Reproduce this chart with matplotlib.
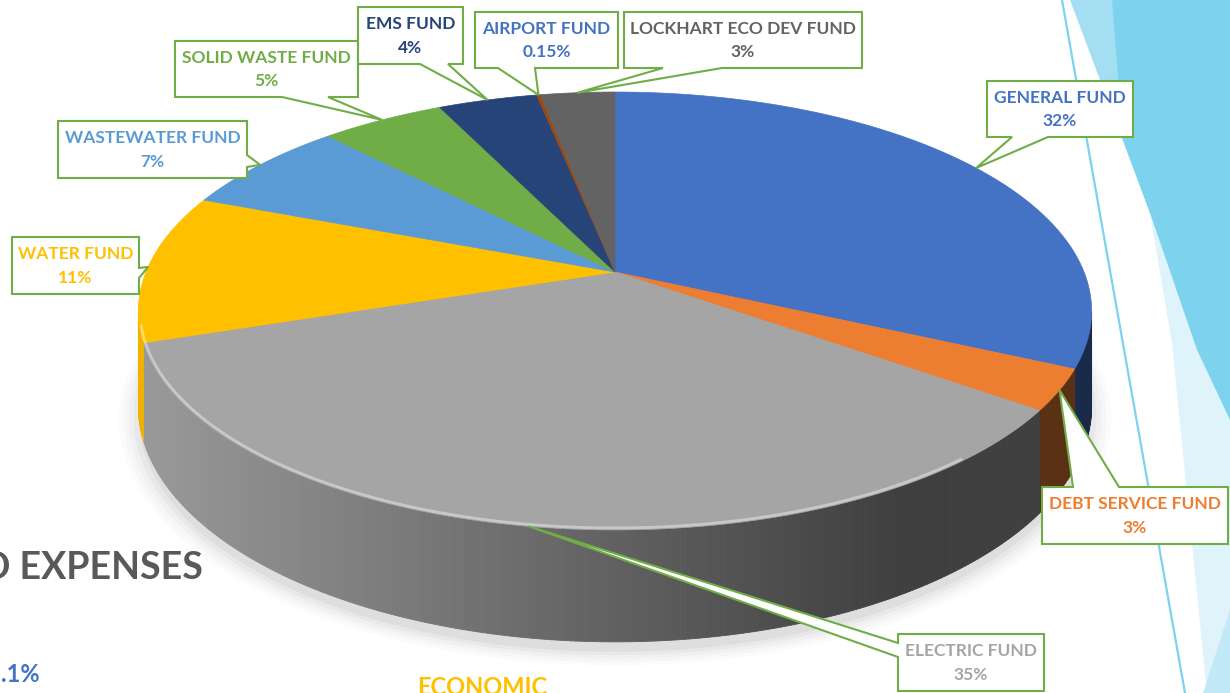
import numpy as np
import matplotlib
matplotlib.use("Agg")
import matplotlib.pyplot as plt
from matplotlib.patches import Polygon
from matplotlib.collections import PolyCollection

# data
funds = ["GENERAL FUND", "DEBT SERVICE FUND", "ELECTRIC FUND", "WATER FUND",
         "WASTEWATER FUND", "SOLID WASTE FUND", "EMS FUND", "AIRPORT FUND",
         "LOCKHART ECO DEV FUND"]
shares = [32, 3, 35, 11, 7, 5, 4, 0.15, 3]
top_colors = ["#4472C4", "#ED7D31", "#A5A5A5", "#FFC000", "#5B9BD5",
              "#70AD47", "#264478", "#9E480E", "#636363"]
label_colors = ["#4472C4", "#ED7D31", "#A5A5A5", "#FFC000", "#5B9BD5",
                "#70AD47", "#264478", "#4472C4", "#636363"]

# callout boxes (x0, y0, x1, y1), side of the tail, tail base positions
boxes = [
    ((987, 81, 1133, 137), "bottom", (1012, 1048)),
    ((1042, 487, 1228, 544), "top", (1073, 1119)),
    ((898, 634, 1044, 691), "left", (643, 657)),
    ((12, 237, 139, 294), "right", (268, 278)),
    ((58, 121, 247, 178), "right", (155, 167)),
    ((175, 41, 358, 97), "bottom", (282, 328)),
    ((358, 7, 463, 64), "bottom", (420, 448)),
    ((475, 12, 618, 68), "bottom", (498, 535)),
    ((624, 12, 862, 68), "bottom", (663, 722)),
]

# perspective of the pie disc (pixel space)
CX, S, P, Q, K, H = 615, 469, 272, -163.6, 0.178, 92


def proj(theta_deg, r=1.0, z=0.0):
    t = np.radians(theta_deg)
    u = r * np.cos(t)
    v = r * np.sin(t)
    w = 1 + K * v
    return CX + S * u / w, (P + Q * v) / w + H * z / w


def shade(hex_color, f):
    c = np.array(matplotlib.colors.to_rgb(hex_color))
    return tuple(np.clip(c * f, 0, 1))


plt.rcParams["font.family"] = ["Lato", "DejaVu Sans"]
fig = plt.figure(figsize=(12.3, 6.93), dpi=100)
ax = fig.add_axes([0, 0, 1, 1])
ax.set_xlim(0, 1230)
ax.set_ylim(693, 0)
ax.axis("off")

# slide background decoration on the right
ax.add_patch(Polygon([(1070, 0), (1112, 0), (1150, 213)], color="#A3DEF3", lw=0))
ax.add_patch(Polygon([(1150, 213), (1172, 343), (1207, 693), (1230, 693),
                      (1230, 420), (1197, 350)], color="#DFF3FA", lw=0))
ax.add_patch(Polygon([(1112, 0), (1230, 0), (1230, 420), (1197, 350),
                      (1150, 213), (1123, 140)], color="#7DD3EE", lw=0))
ax.add_patch(Polygon([(1230, 610), (1230, 693), (1203, 693)], color="#C2E9F7", lw=0))
ax.plot([1062, 1185], [0, 693], color="#7DD3EE", lw=1.6)

# angles of every slice (clockwise from 12 o'clock)
vals = np.array(shares, dtype=float)
cum = np.concatenate([[0], np.cumsum(vals) / vals.sum()])
starts = 90 - 360 * cum[:-1]
ends = 90 - 360 * cum[1:]

# soft shadow under the disc
th = np.linspace(0, 360, 240)
for r, a in [(1.04, 0.015), (1.03, 0.02), (1.02, 0.025), (1.01, 0.03), (1.0, 0.04)]:
    xs, ys = proj(th, r, 1.0)
    ax.add_patch(Polygon(np.column_stack([xs, ys + 10]), color="#000000", alpha=a, lw=0))

# visible side wall
vis_lo, vis_hi = -(180 - np.degrees(np.arcsin(K))), -np.degrees(np.arcsin(K))
quads, qcols = [], []
for i in range(len(vals)):
    lo = max(ends[i], vis_lo)
    hi = min(starts[i], vis_hi)
    if hi <= lo:
        continue
    th = np.linspace(hi, lo, max(2, int((hi - lo) / 0.5) + 1))
    for a, b in zip(th[:-1], th[1:]):
        xa, ya = proj(a)
        xb, yb = proj(b)
        xa2, ya2 = proj(a, 1, 1)
        xb2, yb2 = proj(b, 1, 1)
        quads.append([(xa, ya), (xb, yb), (xb2, yb2), (xa2, ya2)])
        xm = (xa + xb) / 2
        f = np.clip(0.93 - 0.55 * (xm - 140) / 760, 0.38, 0.95)
        qcols.append(shade(top_colors[i], f))
ax.add_collection(PolyCollection(quads, facecolors=qcols, edgecolors=qcols, linewidths=0.6))

# top of the pie
for i in range(len(vals)):
    th = np.linspace(starts[i], ends[i], max(3, int(abs(starts[i] - ends[i]) * 2)))
    xs, ys = proj(th)
    pts = [proj(0, 0)] + list(zip(xs, ys))
    ax.add_patch(Polygon(pts, closed=True, facecolor=top_colors[i],
                         edgecolor=top_colors[i], lw=0.5))

# bevel highlight along the front rim
th = np.linspace(vis_hi - 40, vis_lo + 4, 200)
xs, ys = proj(th, 0.997)
ax.plot(xs, ys - 1, color="white", lw=2.0, alpha=0.4, solid_capstyle="round")

# callouts
for i, (box, side, base) in enumerate(boxes):
    x0, y0, x1, y1 = box
    mid = (starts[i] + ends[i]) / 2
    tip = proj(mid)
    b1, b2 = base
    if side == "bottom":
        pts = [(x0, y0), (x1, y0), (x1, y1), (b2, y1), tip, (b1, y1), (x0, y1)]
    elif side == "top":
        pts = [(x0, y0), (b1, y0), tip, (b2, y0), (x1, y0), (x1, y1), (x0, y1)]
    elif side == "left":
        pts = [(x0, y0), (x1, y0), (x1, y1), (x0, y1), (x0, b2), tip, (x0, b1)]
    else:
        pts = [(x0, y0), (x1, y0), (x1, b1), tip, (x1, b2), (x1, y1), (x0, y1)]
    ax.add_patch(Polygon(pts, closed=True, facecolor="white", edgecolor="#70AD47",
                         lw=1.5, joinstyle="miter", zorder=5))
    cx = (x0 + x1) / 2
    h = y1 - y0
    ax.text(cx, y0 + 0.3 * h, funds[i], color=label_colors[i], fontsize=12.5,
            fontweight="bold", ha="center", va="center", zorder=6)
    ax.text(cx, y0 + 0.72 * h, f"{shares[i]:g}%", color=label_colors[i], fontsize=12.5,
            fontweight="bold", ha="center", va="center", zorder=6)

# slide text partly hidden behind the chart frame
ax.text(203, 568, "D EXPENSES", color="#595959", fontsize=27, fontweight="bold",
        ha="right", va="center")
ax.text(40, 674, ".1%", color="#4472C4", fontsize=17, fontweight="bold",
        ha="right", va="center")
ax.text(482, 676, "ECONOMIC", color="#FFC000", fontsize=17, fontweight="bold",
        ha="center", va="top")

fig.savefig("out.png", dpi=100)
